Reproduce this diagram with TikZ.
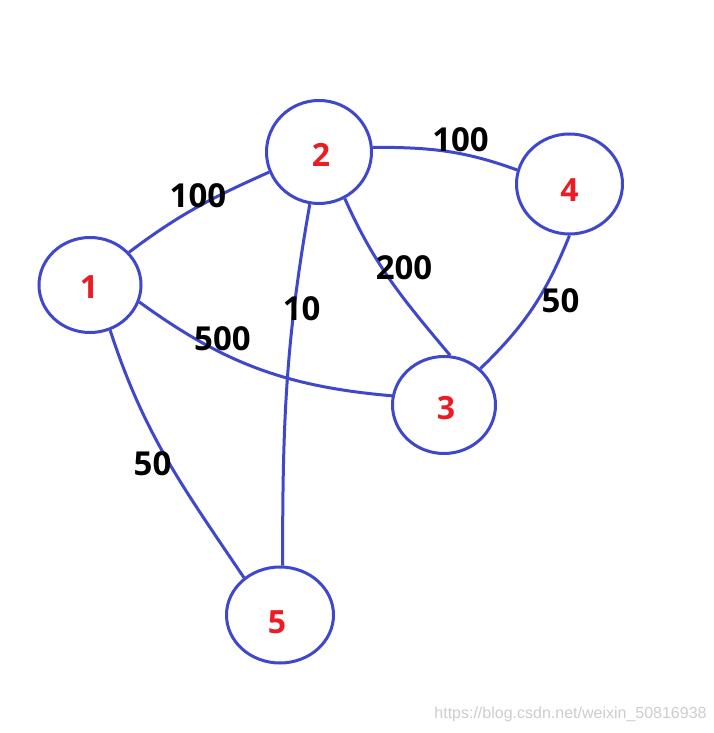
\documentclass[tikz,border=0pt]{standalone}
\usepackage{fontspec}
\setmainfont{Open Sans}
\newfontfamily\wmfont{Liberation Sans}
\usetikzlibrary{shapes.geometric}
\definecolor{edgeblue}{RGB}{63,72,204}
\definecolor{nodered}{RGB}{237,28,36}
\definecolor{wmgray}{RGB}{205,205,205}
\begin{document}
\begin{tikzpicture}[x=1pt,y=1pt,
  vert/.style={ellipse, draw=edgeblue, line width=3pt, inner sep=0pt},
  link/.style={draw=edgeblue, line width=3pt},
  wlab/.style={font=\fontsize{33}{33}\selectfont\bfseries, text=black, inner sep=0pt},
  nlab/.style={font=\fontsize{32}{32}\selectfont\bfseries, text=nodered, inner sep=0pt}]
\fill[white] (0,0) rectangle (713,733);
\useasboundingbox (0,0) rectangle (713,733);
% vertices
\node[vert, minimum width=102pt, minimum height=95pt,
  label={[nlab, xshift=-1pt, yshift=-2pt]center:1}] (n1) at (90,448) {};
\node[vert, minimum width=105pt, minimum height=103pt,
  label={[nlab, xshift=2pt, yshift=-3pt]center:2}] (n2) at (319,581) {};
\node[vert, minimum width=103pt, minimum height=97pt,
  label={[nlab, xshift=2pt, yshift=-3pt]center:3}] (n3) at (444,328) {};
\node[vert, minimum width=106pt, minimum height=100pt,
  label={[nlab, xshift=0pt, yshift=-6pt]center:4}] (n4) at (569.5,549) {};
\node[vert, minimum width=107pt, minimum height=96pt,
  label={[nlab, xshift=-3pt, yshift=-7pt]center:5}] (n5) at (280,118) {};
% edges
\draw[link] (n1.40.5) to[out=37,in=204] (n2.202);
\draw[link] (n1.341.5) to[out=-36,in=175] (n3.170.3);
\draw[link] (n2.5.4) to[out=0,in=160] (n4.165);
\draw[link] (n2.299.5) to[out=-66,in=130] (n3.83);
\draw[link] (n4.270) to[out=-112,in=44] (n3.45.8);
\draw[link] (n1.294) to[out=-72,in=124] (n5.134.6);
\draw[link] (n2.260.1) to[out=-100,in=90] (n5.87.7);
% weights
\node[wlab] (w12) at (198,537) {100};
\node[wlab] (w24) at (460.5,593) {100};
\node[wlab] (w23) at (404,465) {200};
\node[wlab] (w43) at (560.5,432) {50};
\node[wlab] (w25) at (301.7,424) {10};
\node[wlab] (w13) at (222.5,394) {500};
\node[wlab] (w15) at (152.5,269) {50};
% watermark
\node[anchor=base, inner sep=0pt, text=wmgray, font=\wmfont\fontsize{16}{16}\selectfont] (wm) at (570.5,14) {https://blog.csdn.net/weixin\_50816938};
\end{tikzpicture}
\end{document}
